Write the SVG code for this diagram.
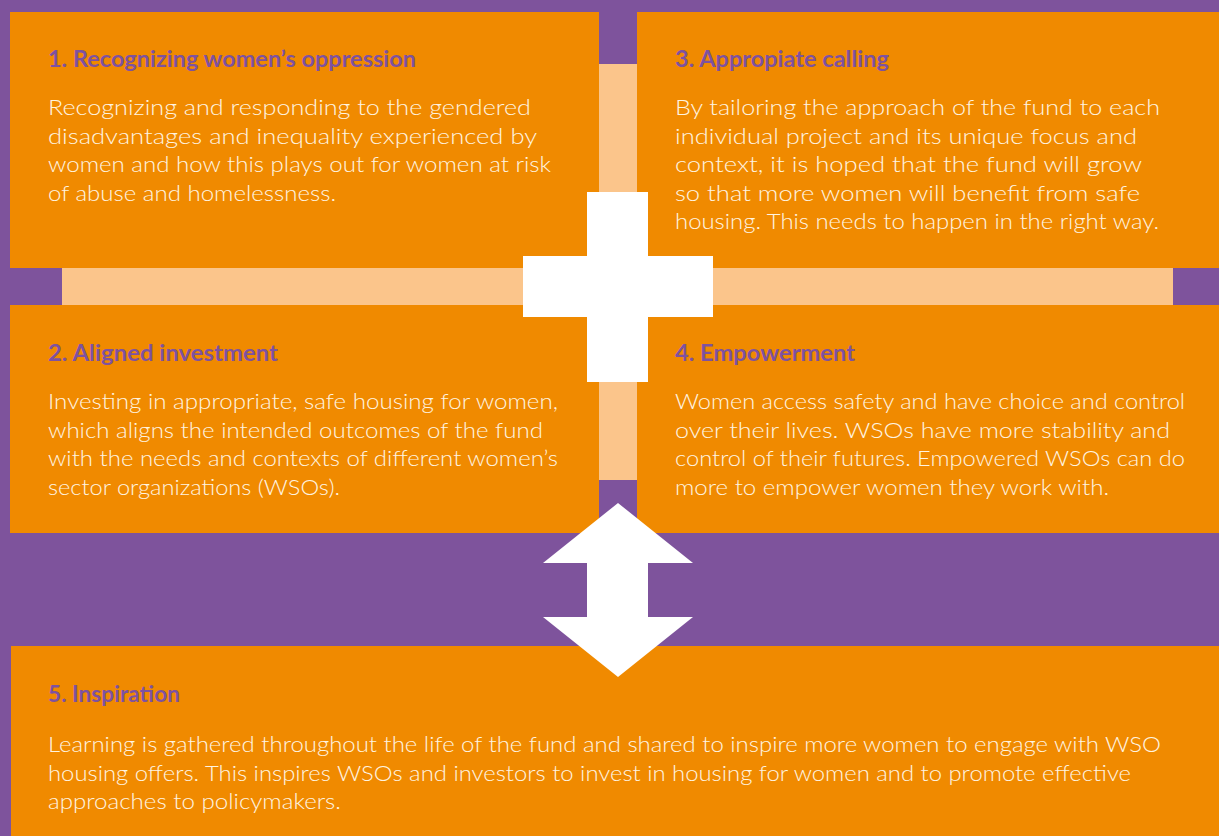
<svg xmlns="http://www.w3.org/2000/svg" width="1219" height="836" viewBox="0 0 1219 836">
<style>
.box{fill:#F08A00}
.hd{font-family:"Lato","Liberation Sans",sans-serif;font-weight:700;font-size:22px;fill:#7E52A0}
.bd{font-family:"Lato","Liberation Sans",sans-serif;font-weight:300;font-size:22px;fill:#FFF4E0}
.peach{fill:#FBC58B}
.wh{fill:#FFFFFF}
</style>
<rect x="0" y="0" width="1219" height="836" fill="#7E539C"/>
<g id="backdrop">
<rect class="peach" x="599" y="64" width="38" height="416"/>
<rect class="peach" x="62" y="268" width="1111" height="37"/>
</g>
<g id="node1">
<rect class="box" x="10" y="12" width="589" height="256"/>
<text class="hd" x="48" y="67" textLength="368" lengthAdjust="spacingAndGlyphs">1. Recognizing women’s oppression</text>
<text class="bd" x="48" y="115" textLength="483" lengthAdjust="spacingAndGlyphs">Recognizing and responding to the gendered</text>
<text class="bd" x="48" y="143.5" textLength="489" lengthAdjust="spacingAndGlyphs">disadvantages and inequality experienced by</text>
<text class="bd" x="48" y="172" textLength="503" lengthAdjust="spacingAndGlyphs">women and how this plays out for women at risk</text>
<text class="bd" x="48" y="200.5" textLength="288" lengthAdjust="spacingAndGlyphs">of abuse and homelessness.</text>
</g>
<g id="node3">
<rect class="box" x="637" y="12" width="582" height="256"/>
<text class="hd" x="675" y="67" textLength="214" lengthAdjust="spacingAndGlyphs">3. Appropiate calling</text>
<text class="bd" x="675" y="115" textLength="485" lengthAdjust="spacingAndGlyphs">By tailoring the approach of the fund to each</text>
<text class="bd" x="675" y="143.5" textLength="462" lengthAdjust="spacingAndGlyphs">individual project and its unique focus and</text>
<text class="bd" x="675" y="172" textLength="467" lengthAdjust="spacingAndGlyphs">context, it is hoped that the fund will grow</text>
<text class="bd" x="675" y="200.5" textLength="465" lengthAdjust="spacingAndGlyphs">so that more women will benefit from safe</text>
<text class="bd" x="675" y="229" textLength="484" lengthAdjust="spacingAndGlyphs">housing. This needs to happen in the right way.</text>
</g>
<g id="node2">
<rect class="box" x="10" y="305" width="589" height="228"/>
<text class="hd" x="48" y="361" textLength="230" lengthAdjust="spacingAndGlyphs">2. Aligned investment</text>
<text class="bd" x="48" y="409" textLength="510" lengthAdjust="spacingAndGlyphs">Investing in appropriate, safe housing for women,</text>
<text class="bd" x="48" y="437.5" textLength="495" lengthAdjust="spacingAndGlyphs">which aligns the intended outcomes of the fund</text>
<text class="bd" x="48" y="466" textLength="510" lengthAdjust="spacingAndGlyphs">with the needs and contexts of different women’s</text>
<text class="bd" x="48" y="494.5" textLength="292" lengthAdjust="spacingAndGlyphs">sector organizations (WSOs).</text>
</g>
<g id="node4">
<rect class="box" x="637" y="305" width="582" height="228"/>
<text class="hd" x="675" y="361" textLength="180" lengthAdjust="spacingAndGlyphs">4. Empowerment</text>
<text class="bd" x="675" y="409" textLength="510" lengthAdjust="spacingAndGlyphs">Women access safety and have choice and control</text>
<text class="bd" x="675" y="437.5" textLength="495" lengthAdjust="spacingAndGlyphs">over their lives. WSOs have more stability and</text>
<text class="bd" x="675" y="466" textLength="510" lengthAdjust="spacingAndGlyphs">control of their futures. Empowered WSOs can do</text>
<text class="bd" x="675" y="494.5" textLength="434" lengthAdjust="spacingAndGlyphs">more to empower women they work with.</text>
</g>
<g id="node5">
<rect class="box" x="11" y="646" width="1208" height="190"/>
<text class="hd" x="48" y="702" textLength="132" lengthAdjust="spacingAndGlyphs">5. Inspiration</text>
<text class="bd" x="48" y="752" textLength="1113" lengthAdjust="spacingAndGlyphs">Learning is gathered throughout the life of the fund and shared to inspire more women to engage with WSO</text>
<text class="bd" x="48" y="780.5" textLength="1083" lengthAdjust="spacingAndGlyphs">housing offers. This inspires WSOs and investors to invest in housing for women and to promote effective</text>
<text class="bd" x="48" y="809" textLength="293" lengthAdjust="spacingAndGlyphs">approaches to policymakers.</text>
</g>
<g id="connectors">
<polygon class="wh" points="587,192 648,192 648,256 713,256 713,317 648,317 648,382 587,382 587,317 523,317 523,256 587,256"/>
<polygon class="wh" points="618,503 693,563 648,563 648,617 693,617 618,677 543,617 587,617 587,563 543,563"/>
</g>
</svg>
